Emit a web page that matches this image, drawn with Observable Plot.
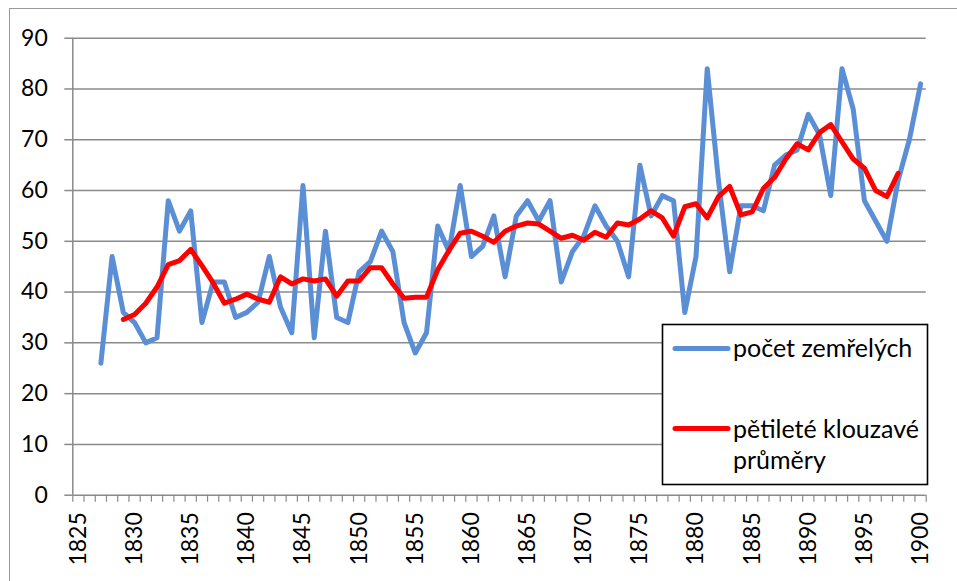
<!DOCTYPE html>
<html>
<head>
<meta charset="utf-8">
<script src="https://cdn.jsdelivr.net/npm/d3@7"></script>
<script src="https://cdn.jsdelivr.net/npm/@observablehq/plot@0.6"></script>
<style>
  body { margin: 0; background: #fff; font-family: Lato, "Open Sans", sans-serif; }
  #wrap { position: relative; width: 957px; height: 581px; overflow: hidden; background: #fff; }
  #chart { position: absolute; left: 0; top: 0; }
  #frame { position: absolute; left: 9px; top: 8px; width: 1200px; height: 1200px;
           border-left: 1.5px solid #9a9a9a; border-top: 1.5px solid #9a9a9a; pointer-events: none; }
  #legend { position: absolute; left: 0; top: 0; }
</style>
</head>
<body>
<div id="wrap">
  <div id="chart"></div>
  <div id="frame"></div>
  <svg id="legend" width="957" height="581"></svg>
</div>
<script>
// ---- data ----
const years = [
  1827,1828,1829,1830,1831,1832,1833,1834,1835,1836,
  1837,1838,1839,1840,1841,1842,1843,1844,1845,1846,
  1847,1848,1849,1850,1851,1852,1853,1854,1855,1856,
  1857,1858,1859,1860,1861,1862,1863,1864,1865,1866,
  1867,1868,1869,1870,1871,1872,1873,1874,1875,1876,
  1877,1878,1879,1880,1881,1882,1883,1884,1885,1886,
  1887,1888,1889,1890,1891,1892,1893,1894,1895,1896,
  1897,1898,1899,1900
];
const deaths = [
  26,47,36,34,30,31,58,52,56,34,
  42,42,35,36,38,47,37,32,61,31,
  52,35,34,44,46,52,48,34,28,32,
  53,48,61,47,49,55,43,55,58,54,
  58,42,48,51,57,53,50,43,65,55,
  59,58,36,47,84,62,44,57,57,56,
  65,67,68,75,71,59,84,76,58,54,
  50,62,70,81
];
const avgYears = [
  1829,1830,1831,1832,1833,1834,1835,1836,1837,1838,
  1839,1840,1841,1842,1843,1844,1845,1846,1847,1848,
  1849,1850,1851,1852,1853,1854,1855,1856,1857,1858,
  1859,1860,1861,1862,1863,1864,1865,1866,1867,1868,
  1869,1870,1871,1872,1873,1874,1875,1876,1877,1878,
  1879,1880,1881,1882,1883,1884,1885,1886,1887,1888,
  1889,1890,1891,1892,1893,1894,1895,1896,1897,1898
];
const avgValues = [
  34.6,35.6,37.8,41.0,45.4,46.2,48.4,45.2,41.8,37.8,
  38.6,39.6,38.6,38.0,43.0,41.6,42.6,42.2,42.6,39.2,
  42.2,42.2,44.8,44.8,41.6,38.8,39.0,39.0,44.4,48.2,
  51.6,52.0,51.0,49.8,52.0,53.0,53.6,53.4,52.0,50.6,
  51.2,50.2,51.8,50.8,53.6,53.2,54.4,56.0,54.6,51.0,
  56.8,57.4,54.6,58.8,60.8,55.2,55.8,60.4,62.6,66.2,
  69.2,68.0,71.4,73.0,69.6,66.2,64.4,60.0,58.8,63.4
];
const yTicks = [0,10,20,30,40,50,60,70,80,90];
const xLabelYears = [1825,1830,1835,1840,1845,1850,1855,1860,1865,1870,1875,1880,1885,1890,1895,1900];
const firstCategory = 1825, lastCategory = 1900;
const seriesNames = ["počet zemřelých", "pětileté klouzavé", "průměry"];
const seriesColors = ["#5a8ed5", "#ff0000"];

// ---- tables ----
const deathRows = years.map((y, i) => ({year: y, value: deaths[i]}));
const avgRows = avgYears.map((y, i) => ({year: y, value: avgValues[i]}));
const boundaries = d3.range(firstCategory - 0.5, lastCategory + 1, 1);

const gray = "#8a8a8a";
const font = "Lato, 'Open Sans', sans-serif";

const chart = Plot.plot({
  width: 957,
  height: 581,
  marginLeft: 72.3,
  marginRight: 31.3,
  marginTop: 37.7,
  marginBottom: 86.3,
  style: {fontFamily: font, fontSize: "23px", color: "#000", background: "transparent"},
  x: {type: "linear", domain: [firstCategory - 0.5, lastCategory + 0.5]},
  y: {domain: [0, 90]},
  marks: [
    Plot.ruleY(yTicks, {stroke: gray, strokeWidth: 1.5}),
    Plot.ruleX([firstCategory - 0.5], {stroke: gray, strokeWidth: 1.5}),
    Plot.axisY({ticks: yTicks, tickSize: 8, tickPadding: 17, stroke: gray, strokeWidth: 1.5,
                fill: "#000", fontSize: 23, label: null, tickFormat: d => String(d)}),
    Plot.axisX({ticks: boundaries, tickSize: 7, stroke: gray, strokeWidth: 1.2,
                tickFormat: () => "", label: null}),
    Plot.axisX({ticks: xLabelYears, tickSize: 0, tickPadding: 17, tickRotate: -90,
                fill: "#000", fontSize: 23, label: null, tickFormat: d => String(d)}),
    Plot.line(deathRows, {x: "year", y: "value", stroke: seriesColors[0], strokeWidth: 5,
                          strokeLinejoin: "round", strokeLinecap: "round"}),
    Plot.line(avgRows, {x: "year", y: "value", stroke: seriesColors[1], strokeWidth: 5,
                        strokeLinejoin: "round", strokeLinecap: "round"})
  ]
});
document.getElementById("chart").appendChild(chart);

// ---- legend ----
const lg = d3.select("#legend");
lg.append("rect").attr("x", 662.5).attr("y", 324.5).attr("width", 265).attr("height", 160)
  .attr("fill", "#fff").attr("stroke", "#000").attr("stroke-width", 1.6);
const items = [
  {color: seriesColors[0], y: 348.5, lines: [seriesNames[0]], base: 357},
  {color: seriesColors[1], y: 428.5, lines: [seriesNames[1], seriesNames[2]], base: 438}
];
items.forEach(it => {
  lg.append("line").attr("x1", 675).attr("x2", 728).attr("y1", it.y).attr("y2", it.y)
    .attr("stroke", it.color).attr("stroke-width", 5).attr("stroke-linecap", "round");
  it.lines.forEach((t, j) => {
    lg.append("text").attr("x", 733).attr("y", it.base + j * 31)
      .attr("font-family", font).attr("font-size", 25).attr("fill", "#000").text(t);
  });
});
</script>
</body>
</html>
